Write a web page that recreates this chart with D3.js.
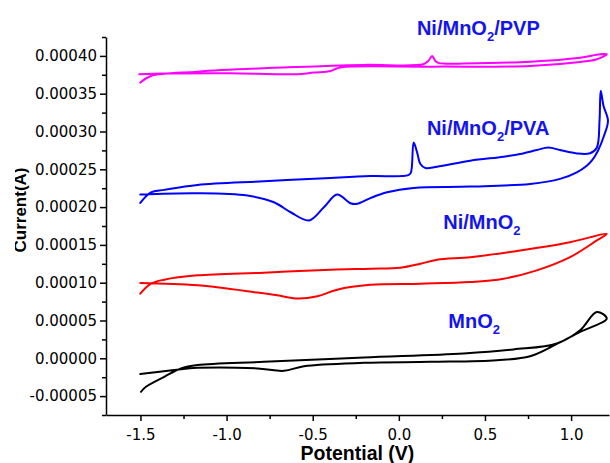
<!DOCTYPE html>
<html>
<head>
<meta charset="utf-8">
<script src="https://cdn.jsdelivr.net/npm/d3@7"></script>
<style>
  html, body { margin: 0; padding: 0; background: #fff; }
  svg { display: block; }
</style>
</head>
<body>
<svg id="chart" width="610" height="463"></svg>
<script>
// ---------------- data (potential in V, current in A) ----------------
const xTicks = [-1.5, -1.0, -0.5, 0.0, 0.5, 1.0];
const xMinorTicks = [-1.25, -0.75, -0.25, 0.25, 0.75];
const yTicks = [-0.00005, 0, 0.00005, 0.0001, 0.00015, 0.0002, 0.00025, 0.0003, 0.00035, 0.0004];
const yMinorTicks = [-0.000075, -0.000025, 0.000025, 0.000075, 0.000125, 0.000175, 0.000225, 0.000275, 0.000325, 0.000375, 0.000425];

const potentialMnO2 = [-1.497, -1.468, -1.362, -1.265, -1.169, -0.783, -0.203, 0.376, 0.666, 0.917, 1.052, 1.149, 1.207,
                       1.052, 0.917, 0.762, 0.569, 0.183, -0.203, -0.551, -0.667, -0.821, -1.169, -1.304, -1.501];
const currentMnO2 = [-4.43e-5, -3.77e-5, -2.45e-5, -1.34e-5, -0.90e-5, -0.47e-5, 0.11e-5, 0.64e-5, 1.17e-5, 1.96e-5, 3.71e-5, 6.13e-5, 5.26e-5,
                     3.49e-5, 1.90e-5, 0.28e-5, -0.25e-5, -0.47e-5, -0.60e-5, -1.04e-5, -1.66e-5, -1.34e-5, -1.26e-5, -1.56e-5, -2.09e-5];

const potentialNiMnO2 = [-1.501, -1.439, -1.362, -1.169, -0.783, -0.396, -0.165, 0.009, 0.125, 0.222, 0.415, 0.704, 0.994, 1.207,
                         1.149, 0.994, 0.801, 0.608, 0.415, 0.125, -0.165, -0.358, -0.473, -0.589, -0.705, -0.821, -1.169, -1.501];
const currentNiMnO2 = [8.55e-5, 9.87e-5, 10.40e-5, 10.97e-5, 11.33e-5, 11.72e-5, 11.85e-5, 11.98e-5, 12.51e-5, 13.04e-5, 13.38e-5, 14.27e-5, 15.36e-5, 16.47e-5,
                       15.59e-5, 13.38e-5, 11.63e-5, 10.53e-5, 10.09e-5, 9.87e-5, 9.72e-5, 9.08e-5, 8.20e-5, 7.90e-5, 8.33e-5, 8.69e-5, 9.65e-5, 9.95e-5];

const potentialPVA = [-1.501, -1.439, -1.362, -1.169, -0.783, -0.396, -0.165, 0.055, 0.070, 0.086, 0.106, 0.125, 0.154, 0.222, 0.415, 0.608, 0.704, 0.801, 0.868, 0.936, 1.033, 1.110, 1.149, 1.165, 1.172, 1.188, 1.214,
                      1.191, 1.156, 1.120, 1.091, 1.033, 0.936, 0.762, 0.415, 0.086, -0.068, -0.165, -0.242, -0.281, -0.358, -0.435, -0.522, -0.628, -0.725, -0.879, -1.169, -1.501];
const currentPVA = [20.56e-5, 21.96e-5, 22.28e-5, 22.93e-5, 23.41e-5, 23.86e-5, 24.10e-5, 24.23e-5, 24.56e-5, 28.56e-5, 27.24e-5, 25.71e-5, 25.18e-5, 25.35e-5, 26.14e-5, 26.67e-5, 27.02e-5, 27.55e-5, 27.90e-5, 27.55e-5, 27.10e-5, 27.13e-5, 27.86e-5, 31.42e-5, 35.38e-5, 33.40e-5, 31.42e-5,
                    29.44e-5, 27.46e-5, 26.14e-5, 25.48e-5, 24.60e-5, 23.73e-5, 23.07e-5, 22.71e-5, 22.54e-5, 21.96e-5, 21.19e-5, 20.43e-5, 20.51e-5, 21.66e-5, 19.98e-5, 18.23e-5, 19.32e-5, 20.64e-5, 21.52e-5, 21.83e-5, 21.66e-5];

const potentialPVP = [-1.501, -1.439, -1.169, -0.589, -0.205, 0.142, 0.171, 0.193, 0.212, 0.229, 0.270, 0.374, 0.762, 1.052, 1.168, 1.207,
                      1.149, 1.052, 0.762, 0.193, -0.321, -0.358, -0.396, -0.495, -0.589, -0.705, -0.976, -1.364, -1.507];
const currentPVP = [36.47e-5, 37.35e-5, 37.92e-5, 38.54e-5, 38.81e-5, 38.90e-5, 39.33e-5, 39.99e-5, 39.33e-5, 39.07e-5, 38.97e-5, 38.98e-5, 39.24e-5, 39.77e-5, 40.22e-5, 40.22e-5,
                    39.56e-5, 39.20e-5, 38.67e-5, 38.58e-5, 38.54e-5, 38.37e-5, 38.01e-5, 37.79e-5, 37.58e-5, 37.58e-5, 37.71e-5, 37.66e-5, 37.58e-5];

const seriesNames = ["MnO2", "Ni/MnO2", "Ni/MnO2/PVA", "Ni/MnO2/PVP"];
const seriesColors = ["#000000", "#ff0000", "#0000ff", "#ff00ff"];
const seriesPotential = [potentialMnO2, potentialNiMnO2, potentialPVA, potentialPVP];
const seriesCurrent = [currentMnO2, currentNiMnO2, currentPVA, currentPVP];

// label anchors in data coordinates (left edge, baseline)
const labelPotential = [0.287, 0.258, 0.163, 0.105];
const labelCurrent = [0.0000397, 0.0001704, 0.0002954, 0.0004272];

// ---------------- drawing ----------------
const svg = d3.select("#chart");
const x = d3.scaleLinear().domain([-1.7, 1.22]).range([106, 609]);
const y = d3.scaleLinear().domain([-0.000075, 0.000425]).range([415, 37]);

const loc = d3.formatLocale({decimal: ".", thousands: ",", grouping: [3], currency: ["", ""], minus: "-"});
const fmtY = loc.format(".5f");
const fmtX = loc.format(".1f");

const tickFont = "'DejaVu Sans', sans-serif";

// Y axis
const gy = svg.append("g").attr("transform", `translate(${x.range()[0]},0)`);
gy.call(d3.axisLeft(y).tickValues(yTicks).tickFormat(fmtY).tickSize(6).tickSizeOuter(0).tickPadding(3));
gy.append("g").call(d3.axisLeft(y).tickValues(yMinorTicks).tickFormat("").tickSize(4).tickSizeOuter(0))
  .select(".domain").remove();
gy.selectAll("text").style("font-family", tickFont).style("font-size", "15px").attr("fill", "#000");
gy.selectAll("line, path").attr("stroke", "#000").attr("stroke-width", 1.5);

// X axis
const gx = svg.append("g").attr("transform", `translate(0,${y.range()[0]})`);
gx.call(d3.axisBottom(x).tickValues(xTicks).tickFormat(fmtX).tickSize(6).tickSizeOuter(0).tickPadding(8));
gx.append("g").call(d3.axisBottom(x).tickValues(xMinorTicks).tickFormat("").tickSize(4).tickSizeOuter(0))
  .select(".domain").remove();
gx.selectAll("text").style("font-family", tickFont).style("font-size", "15px").attr("fill", "#000");
gx.selectAll("line, path").attr("stroke", "#000").attr("stroke-width", 1.5);

// Axis titles
svg.append("text")
  .attr("x", (x.range()[0] + x.range()[1]) / 2)
  .attr("y", 460)
  .attr("text-anchor", "middle")
  .style("font-family", "'Liberation Sans', Arial, sans-serif")
  .style("font-weight", "bold")
  .style("font-size", "19.5px")
  .text("Potential (V)");

svg.append("clipPath").attr("id", "ytclip")
  .append("rect").attr("x", 15).attr("y", 0).attr("width", 40).attr("height", 463);
svg.append("g")
  .attr("clip-path", "url(#ytclip)")
  .append("text")
  .attr("transform", "translate(26,210) rotate(-90)")
  .attr("text-anchor", "middle")
  .style("font-family", "'Liberation Sans', Arial, sans-serif")
  .style("font-weight", "bold")
  .style("font-size", "17px")
  .text("Current(A)");

// Curves
const line = d3.line()
  .x(d => x(d[0]))
  .y(d => y(d[1]))
  .curve(d3.curveCatmullRom.alpha(0.5));

seriesNames.forEach((name, i) => {
  const pts = seriesPotential[i].map((v, j) => [v, seriesCurrent[i][j]]);
  svg.append("path")
    .datum(pts)
    .attr("d", line)
    .attr("fill", "none")
    .attr("stroke", seriesColors[i])
    .attr("stroke-width", 2)
    .attr("stroke-linejoin", "round")
    .attr("stroke-linecap", "round");
});

// Series labels (with subscript 2)
seriesNames.forEach((name, i) => {
  const t = svg.append("text")
    .attr("x", x(labelPotential[i]))
    .attr("y", y(labelCurrent[i]))
    .attr("fill", "#1414f0")
    .style("font-family", "'Liberation Sans', Arial, sans-serif")
    .style("font-weight", "bold")
    .style("font-size", "20px");
  const parts = name.split("2");
  parts.forEach((p, k) => {
    if (k > 0) {
      t.append("tspan").attr("dy", 6).style("font-size", "13px").text("2");
      t.append("tspan").attr("dy", -6).text(p);
    } else {
      t.append("tspan").text(p);
    }
  });
});
</script>
</body>
</html>
